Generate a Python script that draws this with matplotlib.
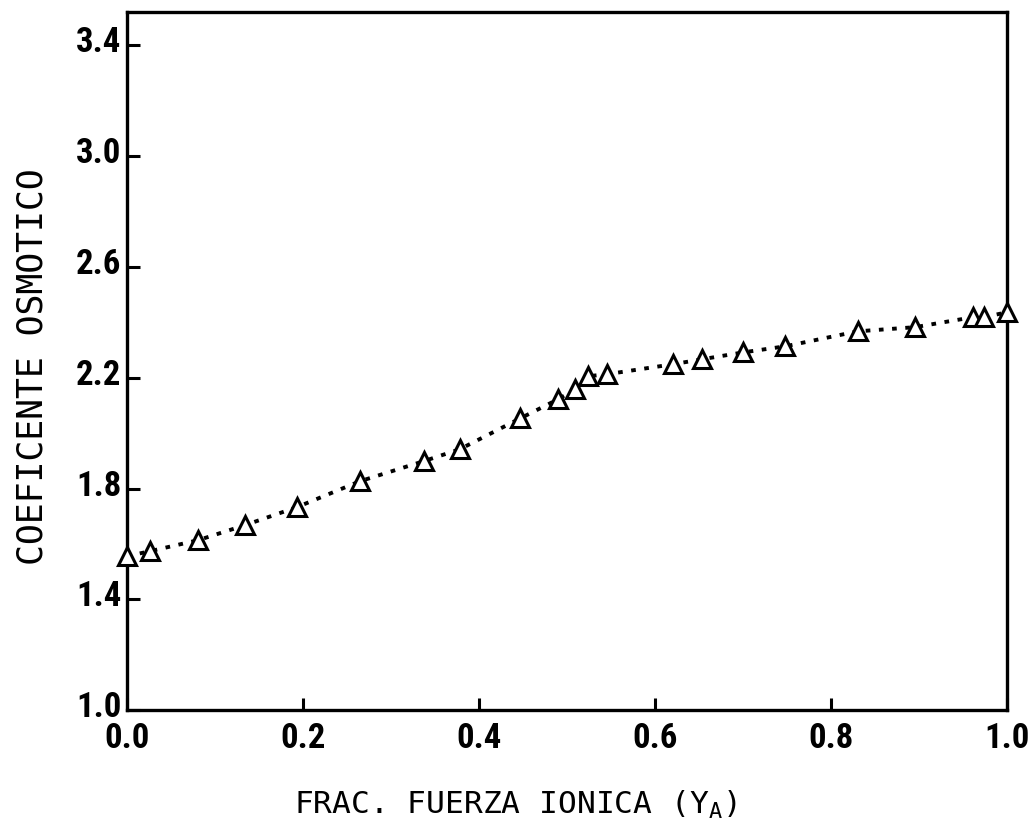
import numpy as np
import matplotlib
matplotlib.use("Agg")
import matplotlib.pyplot as plt
import matplotlib.transforms as mtransforms
from matplotlib import font_manager

plt.rcParams['font.family'] = ['DejaVu Sans Mono']
plt.rcParams['mathtext.default'] = 'regular'

# data
frac_ya = [0.000, 0.026, 0.081, 0.134, 0.193, 0.265, 0.337, 0.378, 0.447,
           0.490, 0.509, 0.524, 0.545, 0.620, 0.653, 0.700, 0.748, 0.830,
           0.895, 0.961, 0.973, 1.000]
coef_osm = [1.556, 1.574, 1.614, 1.668, 1.733, 1.827, 1.899, 1.942, 2.054,
            2.123, 2.159, 2.206, 2.213, 2.249, 2.267, 2.292, 2.314, 2.368,
            2.383, 2.419, 2.419, 2.437]

xticks = [0.0, 0.2, 0.4, 0.6, 0.8, 1.0]
yticks = [1.0, 1.4, 1.8, 2.2, 2.6, 3.0, 3.4]

# narrow font for the tick numbers, if one is around
names = {f.name for f in font_manager.fontManager.ttflist}
narrow = [n for n in ["Liberation Sans Narrow", "DejaVu Sans Condensed",
                      "Roboto Condensed", "Open Sans Condensed"] if n in names]
tick_family = narrow + ["DejaVu Sans"]

fig = plt.figure(figsize=(10.31, 8.28), dpi=100)
ax = fig.add_axes([0.123, 0.141, 0.854, 0.843])

ax.plot(frac_ya, coef_osm, color="black", linestyle=(0, (1.2, 2.2)),
        linewidth=2.8, zorder=2)
ax.plot(frac_ya, coef_osm, linestyle="none", marker="^", markersize=13,
        markerfacecolor="white", markeredgecolor="black",
        markeredgewidth=2.2, zorder=3, clip_on=False)

ax.set_xlim(0, 1.0)
ax.set_ylim(1.0, 3.52)
ax.set_xticks(xticks)
ax.set_yticks(yticks)
ax.set_xticklabels([f"{t:.1f}" for t in xticks], family=tick_family,
                   fontsize=25, fontweight="bold", fontstretch="condensed")
ax.set_yticklabels([f"{t:.1f}" for t in yticks], family=tick_family,
                   fontsize=25, fontweight="bold", fontstretch="condensed")

for sp in ax.spines.values():
    sp.set_linewidth(2.4)
ax.tick_params(direction="in", length=9, width=2.2, pad=4,
               top=False, right=False)
ax.tick_params(axis="x", pad=8)

# y numbers sit a little above their ticks in the original
shift = mtransforms.ScaledTranslation(0, 7 / 100, fig.dpi_scale_trans)
for tk in ax.yaxis.get_major_ticks():
    tk.label1.set_transform(tk.label1.get_transform() + shift)

fig.text(0.50, 0.028, "FRAC. FUERZA IONICA (Y$_{A}$)", ha="center",
         va="center", fontsize=22.5)
fig.text(0.032, 0.557, "COEFICENTE OSMOTICO", ha="center", va="center",
         rotation=90, fontsize=25)

fig.savefig("out.png", dpi=100)
